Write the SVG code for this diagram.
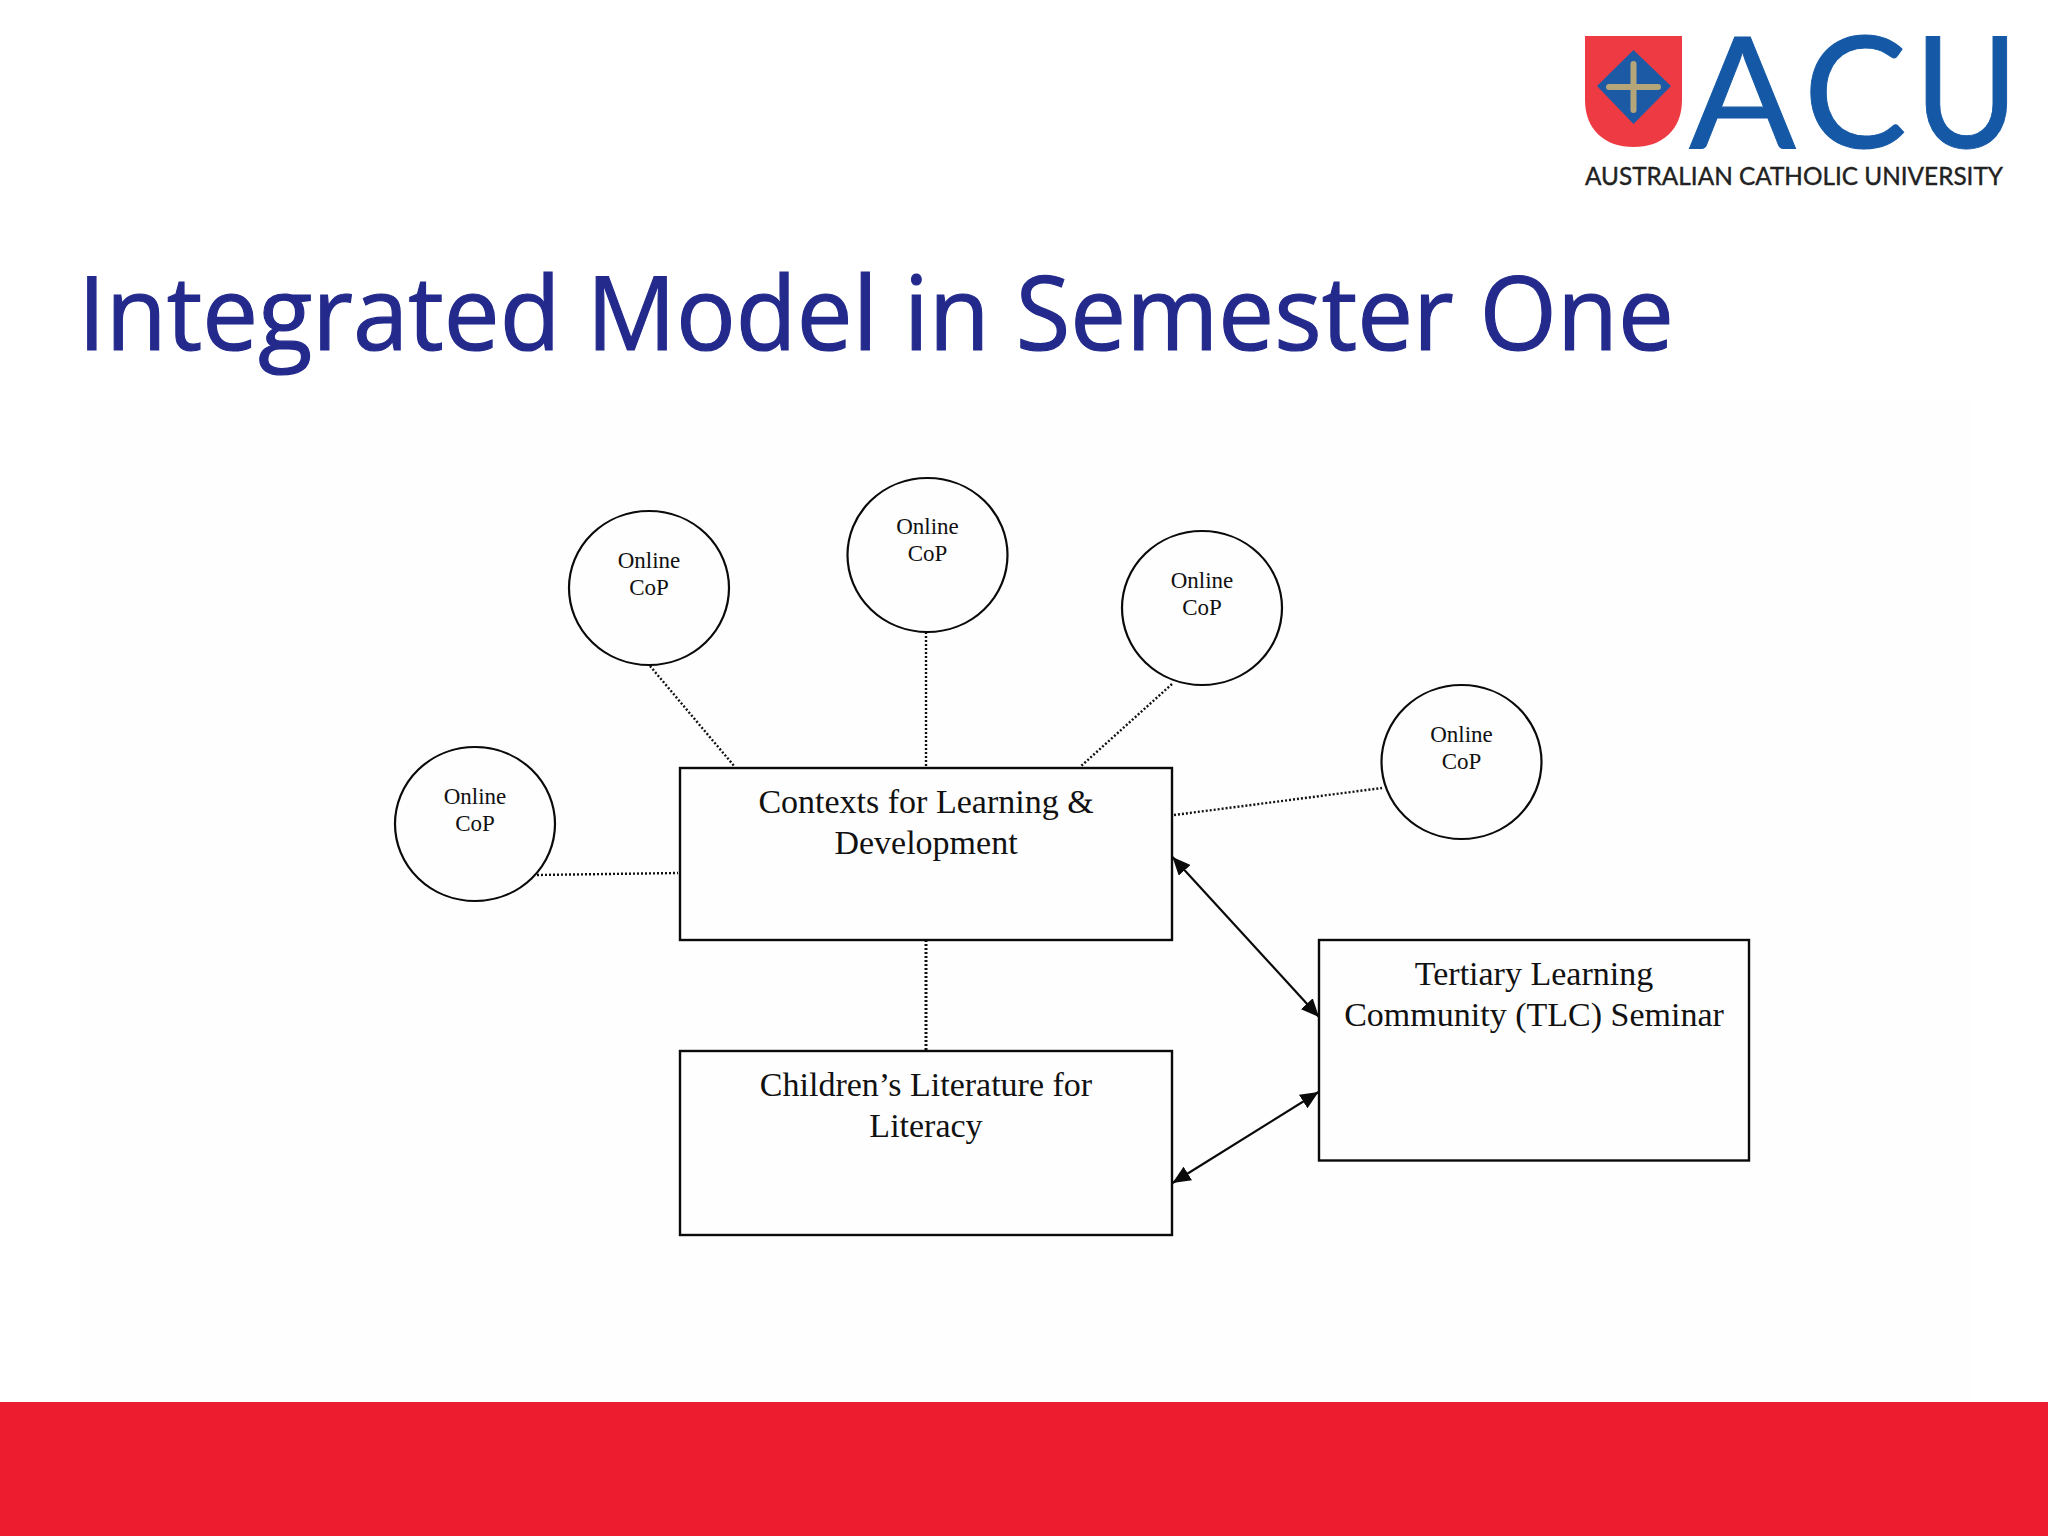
<svg xmlns="http://www.w3.org/2000/svg" width="2048" height="1536" viewBox="0 0 2048 1536">
<style>
.box{fill:none;stroke:#0a0a0a;stroke-width:2.4}
.circ{fill:none;stroke:#0a0a0a;stroke-width:2.2}
.dot{fill:none;stroke:#111;stroke-width:2.4;stroke-dasharray:2 2}
.arr{fill:none;stroke:#0a0a0a;stroke-width:2.2;marker-start:url(#ah);marker-end:url(#ah)}
.bt{font-family:"Liberation Serif","Times New Roman",serif;font-size:34px;fill:#111;text-anchor:middle}
.ct{font-family:"Liberation Serif","Times New Roman",serif;font-size:23px;fill:#111;text-anchor:middle}
.acu{font-family:Lato,sans-serif;font-size:155px;fill:#1559a6;stroke:#1559a6;stroke-width:1}
</style>
<defs>
<marker id="ah" markerUnits="userSpaceOnUse" markerWidth="20" markerHeight="16" refX="18" refY="8" orient="auto-start-reverse"><path d="M0,0 L18,8 L0,16 Z" fill="#0a0a0a"/></marker>
</defs>
<rect width="2048" height="1536" fill="#ffffff"/>
<rect x="80" y="400" width="1890" height="1002" fill="#fefefe"/>
<rect id="footer" x="0" y="1402" width="2048" height="134" fill="#ed1c2e"/>
<g id="logo">
<path d="M1585,36 H1682 V100 C1682,130 1662,147 1633.500,147 C1605,147 1585,130 1585,100 Z" fill="#ee3b43"/>
<path d="M1633.500,50 L1671,86 L1633.500,124 L1597,86 Z" fill="#1d5aa6"/>
<path d="M1633.500,64 V110 M1609,87 H1658" stroke="#b5a67a" stroke-width="6" stroke-linecap="round" fill="none"/>
<text class="acu" transform="translate(1689,148) scale(1.02,1)">A</text>
<text class="acu" transform="translate(1803.500,148) scale(1,1)">C</text>
<text class="acu" transform="translate(1914.500,148) scale(0.91,1)">U</text>
<text x="1585" y="185" font-family="Lato,sans-serif" font-size="25" fill="#222" stroke="#222" stroke-width="0.4" textLength="418" lengthAdjust="spacingAndGlyphs">AUSTRALIAN CATHOLIC UNIVERSITY</text>
</g>
<text id="title" x="78" y="350" font-family="'Open Sans',sans-serif" font-size="102" fill="#232a8c" stroke="#232a8c" stroke-width="1.200" textLength="1596" lengthAdjust="spacingAndGlyphs">Integrated Model in Semester One</text>
<g id="connectors">
<path class="dot" d="M537,875 L678,873"/>
<path class="dot" d="M650,666 L735,767"/>
<path class="dot" d="M926,632 V767"/>
<path class="dot" d="M1172,684 L1080,767"/>
<path class="dot" d="M1174,815 L1382,788"/>
<path class="dot" style="stroke-width:3" d="M926,940 V1051"/>
<path class="arr" d="M1172.500,857 L1319,1017"/>
<path class="arr" d="M1172.500,1183 L1318.500,1092"/>
</g>
<g id="box-contexts"><rect class="box" x="680" y="768" width="492" height="172"/>
<text class="bt" x="926" y="813">Contexts for Learning &amp;</text><text class="bt" x="926" y="854">Development</text></g>
<g id="box-childrens"><rect class="box" x="680" y="1051" width="492" height="184"/>
<text class="bt" x="926" y="1096">Children’s Literature for</text><text class="bt" x="926" y="1137">Literacy</text></g>
<g id="box-tlc"><rect class="box" x="1319" y="940" width="430" height="220.500"/>
<text class="bt" x="1534" y="985">Tertiary Learning</text><text class="bt" x="1534" y="1026">Community (TLC) Seminar</text></g>
<g id="cop-1"><ellipse class="circ" cx="475" cy="824" rx="80" ry="77"/><text class="ct" x="475" y="804">Online</text><text class="ct" x="475" y="831">CoP</text></g>
<g id="cop-2"><ellipse class="circ" cx="649" cy="588" rx="80" ry="77"/><text class="ct" x="649" y="568">Online</text><text class="ct" x="649" y="595">CoP</text></g>
<g id="cop-3"><ellipse class="circ" cx="927.500" cy="555" rx="80" ry="77"/><text class="ct" x="927.500" y="534">Online</text><text class="ct" x="927.500" y="561">CoP</text></g>
<g id="cop-4"><ellipse class="circ" cx="1202" cy="608" rx="80" ry="77"/><text class="ct" x="1202" y="588">Online</text><text class="ct" x="1202" y="615">CoP</text></g>
<g id="cop-5"><ellipse class="circ" cx="1461.500" cy="762" rx="80" ry="77"/><text class="ct" x="1461.500" y="742">Online</text><text class="ct" x="1461.500" y="769">CoP</text></g>
</svg>
